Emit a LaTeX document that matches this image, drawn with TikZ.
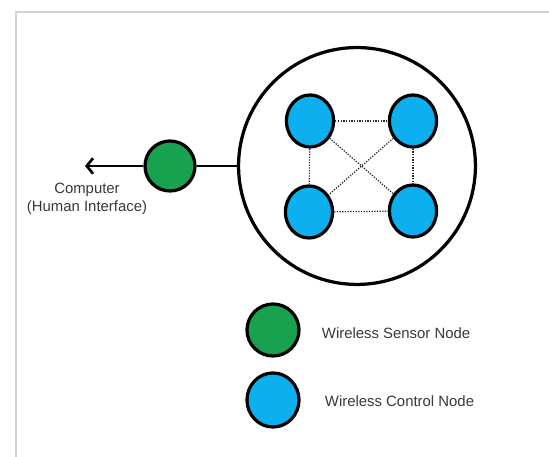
\documentclass[tikz,border=0pt]{standalone}
\usepackage{fontspec}
\setmainfont{Liberation Sans}
\usepackage{xcolor}
\usepackage{tikz}
\usetikzlibrary{shapes.geometric, arrows.meta, positioning, calc}
\definecolor{sensorgreen}{RGB}{24,162,80}
\definecolor{controlblue}{RGB}{12,176,238}
\definecolor{labelgray}{RGB}{55,55,55}

\begin{document}
\begin{tikzpicture}[x=0.025cm, y=-0.025cm,
  sensor/.style={circle, draw=black, line width=2.3pt, fill=sensorgreen,
                 minimum size=1.25cm, inner sep=0pt},
  ctrl/.style={ellipse, draw=black, line width=2.3pt, fill=controlblue,
               minimum width=1.18cm, minimum height=1.3cm, inner sep=0pt},
  link/.style={densely dotted, line width=0.9pt, black!85},
  label/.style={font=\fontsize{10.6}{13}\selectfont, text=labelgray, align=center},
  arr/.style={-{Straight Barb[length=4.5pt, width=11pt]}, line width=1.9pt},
]
\useasboundingbox (0,0) rectangle (549,457);
\draw[gray!35, line width=1pt] (16,457) -- (16,12) -- (549,12);

\node[circle, draw, line width=2.3pt, minimum size=5.92cm] (net) at (357,166) {};
\node[ctrl] (tl) at (310,121) {};
\node[ctrl] (tr) at (413,121) {};
\node[ctrl] (bl) at (309,212) {};
\node[ctrl] (br) at (413,211) {};
\draw[link] (tl) -- (tr);
\draw[link] (bl) -- (br);
\draw[link] (tl) -- (bl);
\draw[link] (tr) -- (br);
\draw[link] (tl) -- (br);
\draw[link] (tr) -- (bl);

\node[sensor] (sn) at (170,166) {};
\coordinate (pc) at (85,166);
\draw[line width=1.9pt] (sn.east) -- (net.west);
\draw[arr] (sn.west) -- (pc);
\node[label] (pclabel) at (87,199) {Computer\\(Human Interface)};

\node[sensor, minimum size=1.3cm] (keysn) at (273,330) {};
\node[label, anchor=west] (keysntext) at (317,333) {Wireless Sensor Node};
\node[ctrl, minimum width=1.3cm, minimum height=1.35cm] (keyctrl) at (273,400) {};
\node[label, anchor=west] (keyctrltext) at (320,401) {Wireless Control Node};
\end{tikzpicture}
\end{document}
